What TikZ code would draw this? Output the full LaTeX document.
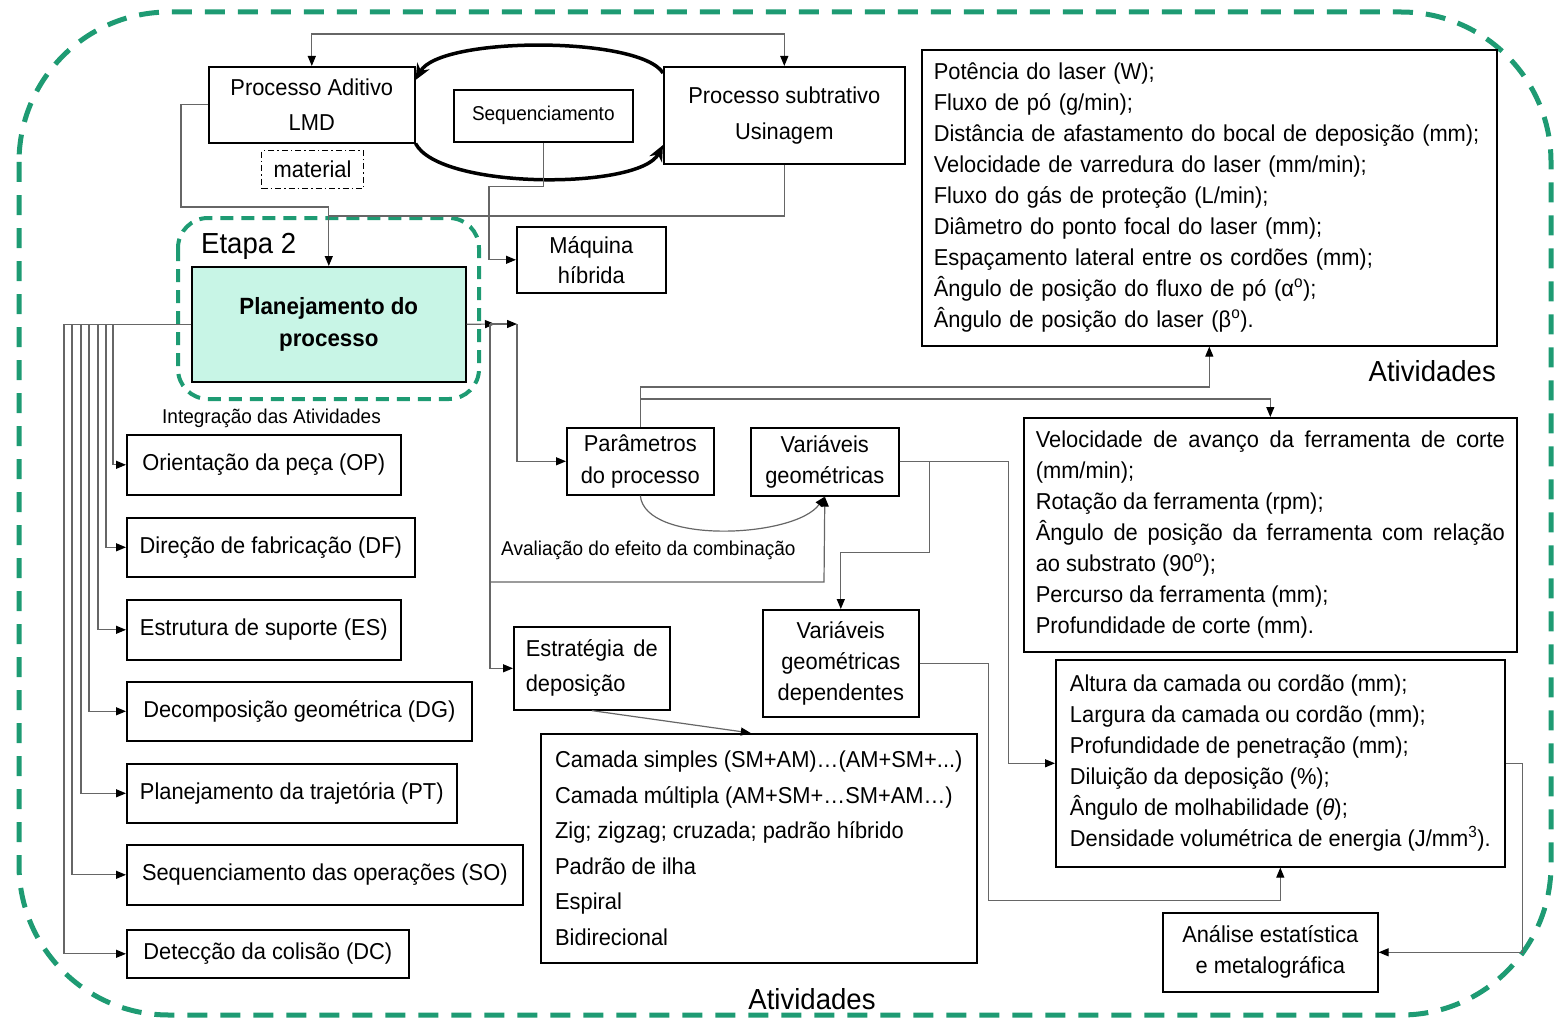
\documentclass[tikz,border=0pt]{standalone}
\usepackage{fontspec}
\setmainfont{Liberation Sans}[FakeStretch=0.95]
\usepackage{tikz}
\usetikzlibrary{arrows.meta}
\hyphenpenalty=10000
\exhyphenpenalty=10000
\tolerance=10000
\definecolor{frameGreen}{RGB}{30,155,115}
\definecolor{mintFill}{RGB}{200,245,230}

\begin{document}
\begin{tikzpicture}[
        x=1pt, y=-1pt,
        box/.style={rectangle, draw, line width=1.6pt, inner sep=0pt, anchor=north west, align=center, font=\fontsize{23}{31}\selectfont},
        listbox/.style={box, align=left, inner xsep=12pt},
        conn/.style={draw=black!60, line width=1.2pt},
        arr/.style={conn, -{Triangle[length=10pt, width=8pt, color=black]}},
        darr/.style={conn, {Triangle[length=10pt, width=8pt, color=black]}-{Triangle[length=10pt, width=8pt, color=black]}},
        loopArr/.style={line width=3.5pt, -{Stealth[length=16pt, width=14pt]}},
        noteText/.style={font=\fontsize{20}{20}\selectfont, anchor=west, inner sep=0pt},
        bigText/.style={font=\fontsize{29}{29}\selectfont, inner sep=0pt},
        outerFrame/.style={draw=frameGreen, line width=5pt, dash pattern=on 20pt off 13pt, rounded corners=150pt},
        etapaFrame/.style={draw=frameGreen, line width=4pt, dash pattern=on 13pt off 8pt, rounded corners=30pt}
    ]
    \useasboundingbox (0,0) rectangle (1554,1019);

    % Frames
    \draw[outerFrame] (19,12) rectangle (1551,1015);
    \draw[etapaFrame] (178,218) rectangle (479,399);

    % Processes (top)
    \node[box, minimum width=206, minimum height=76, font=\fontsize{23}{35}\selectfont] (lmd) at (208,66) {Processo Aditivo\\LMD};
    \node[box, minimum width=179, minimum height=52, font=\fontsize{20}{24}\selectfont] (seq) at (453,89) {Sequenciamento};
    \node[box, minimum width=241, minimum height=97, font=\fontsize{23}{36}\selectfont] (sub) at (663,66) {Processo subtrativo\\Usinagem};
    \node[box, line width=1.2pt, dash pattern=on 6pt off 3pt on 1.5pt off 3pt, minimum width=102, minimum height=38] (mat) at (261,150) {material};
    \node[box, minimum width=149, minimum height=66, font=\fontsize{23}{30}\selectfont] (maq) at (516,226) {Máquina\\híbrida};

    % Etapa 2
    \node[bigText, anchor=west] (etapa) at (201,246) {Etapa 2};
    \node[box, minimum width=274, minimum height=115, fill=mintFill, font=\bfseries\fontsize{23.5}{32}\selectfont] (plan) at (191,266) {Planejamento do\\processo};
    \node[noteText] (integ) at (162,418) {Integração das Atividades};

    % Activities (left column)
    \node[box, minimum width=274, minimum height=60] (op) at (126,434) {Orientação da peça (OP)};
    \node[box, minimum width=288, minimum height=59] (df) at (126,517) {Direção de fabricação (DF)};
    \node[box, minimum width=274, minimum height=60] (es) at (126,599) {Estrutura de suporte (ES)};
    \node[box, minimum width=345, minimum height=59] (dg) at (126,681) {Decomposição geométrica (DG)};
    \node[box, minimum width=330, minimum height=59] (pt) at (126,763) {Planejamento da trajetória (PT)};
    \node[box, minimum width=396, minimum height=60] (so) at (126,844) {Sequenciamento das operações (SO)};
    \node[box, minimum width=282, minimum height=48] (dc) at (126,929) {Detecção da colisão (DC)};

    % Parameters and variables
    \node[box, minimum width=147, minimum height=67, font=\fontsize{23}{32}\selectfont] (par) at (566,427) {Parâmetros\\do processo};
    \node[box, minimum width=148, minimum height=68] (vgeo) at (750,427) {Variáveis\\geométricas};
    \node[noteText] (aval) at (501,550) {Avaliação do efeito da combinação};
    \node[box, minimum width=156, minimum height=107] (vdep) at (762,609) {Variáveis\\geométricas\\dependentes};
    \node[box, minimum width=156, minimum height=83, text width=132, align=left, font=\fontsize{23}{35}\selectfont] (estr) at (513,626) {Estratégia\hfill de\\deposição};
    \node[listbox, minimum width=436, minimum height=229, font=\fontsize{23}{35.6}\selectfont] (cam) at (540,733) {Camada simples (SM+AM)…(AM+SM+...)\\Camada múltipla (AM+SM+…SM+AM…)\\Zig; zigzag; cruzada; padrão híbrido\\Padrão de ilha\\Espiral\\Bidirecional};

    % Lists (right)
    \node[listbox, text width=551, minimum height=296] (pot) at (921,49) {Potência do laser (W);\\Fluxo de pó (g/min);\\Distância de afastamento do bocal de deposição (mm);\\Velocidade de varredura do laser (mm/min);\\Fluxo do gás de proteção (L/min);\\Diâmetro do ponto focal do laser (mm);\\Espaçamento lateral entre os cordões (mm);\\Ângulo de posição do fluxo de pó (α\textsuperscript{o});\\Ângulo de posição do laser (β\textsuperscript{o}).};
    \node[bigText, anchor=east] (ativ1) at (1496,371) {Atividades};
    \node[listbox, text width=469, align=justify, minimum height=234] (vel) at (1023,417) {Velocidade de avanço da ferramenta de corte\linebreak (mm/min);\\Rotação da ferramenta (rpm);\\Ângulo de posição da ferramenta com relação\linebreak ao substrato (90\textsuperscript{o});\\Percurso da ferramenta (mm);\\Profundidade de corte (mm).};
    \node[listbox, minimum width=449, minimum height=207] (alt) at (1055,659) {Altura da camada ou cordão (mm);\\Largura da camada ou cordão (mm);\\Profundidade de penetração (mm);\\Diluição da deposição (\%);\\Ângulo de molhabilidade (\textit{θ});\\Densidade volumétrica de energia (J/mm\textsuperscript{3}).};
    \node[box, minimum width=215, minimum height=79] (ana) at (1162,912) {Análise estatística\\e metalográfica};
    \node[bigText] (ativ2) at (812,999) {Atividades};

    % --- Edges ---
    \coordinate (ja) at (490,324);
    \coordinate (jb) at (517,324);
    \coordinate (avalEnd) at (824,582);

    % Top loop
    \draw[darr] (lmd.north) -- ++(0,-32) -| (sub.north);
    \draw[loopArr] ([yshift=-7pt]sub.north west) .. controls (640,36) and (440,36) .. ([yshift=-14pt]lmd.north east);
    \draw[loopArr] (lmd.south east) .. controls (440,190) and (640,190) .. ([yshift=-79pt]sub.north west);
    \draw[arr] (seq.south) -- ++(0,44) -| ([xshift=-27pt]maq.west) -- (maq.west);
    \draw[arr] (lmd.west) -- ++(-27,0) |- ([yshift=59pt]plan.north) -- (plan.north);
    \draw[conn] (sub.south) |- ([yshift=50pt]plan.north);

    % Planejamento to left activities
    \draw[arr] (plan.west) -- ++(-78,0) |- (op.west);
    \draw[arr] (plan.west) -- ++(-85,0) |- (df.west);
    \draw[arr] (plan.west) -- ++(-93,0) |- (es.west);
    \draw[arr] (plan.west) -- ++(-102,0) |- (dg.west);
    \draw[arr] (plan.west) -- ++(-110,0) |- (pt.west);
    \draw[arr] (plan.west) -- ++(-119,0) |- (so.west);
    \draw[arr] (plan.west) -- ++(-127,0) |- (dc.west);

    % Planejamento to the right
    \draw[arr] (plan.east) -- ([xshift=5pt]ja);
    \draw[arr] (ja) -- (jb);
    \draw[arr] (jb) |- (par.west);
    \draw[arr] (ja) |- (estr.west);
    \draw[arr] (ja) |- (avalEnd) -- (vgeo.south);
    \draw[arr] (par.south) .. controls (645,545) and (795,538) .. (vgeo.south);
    \draw[arr] (par.north) -- ++(0,-40) -| (pot.south);
    \draw[arr] (par.north) -- ++(0,-28) -| (vel.north);
    \draw[arr] (vgeo.east) -- ++(109,0) |- (alt.west);
    \draw[arr] (vgeo.east) -- ++(30,0) -- ++(0,91) -| (vdep.north);
    \draw[arr] (vdep.east) -- ++(69,0) -- ++(0,237) -| (alt.south);
    \draw[arr] (alt.east) -- ++(17,0) |- (ana.east);
    \draw[arr] (estr.south) -- ([xshift=-8pt]cam.north);

\end{tikzpicture}
\end{document}
